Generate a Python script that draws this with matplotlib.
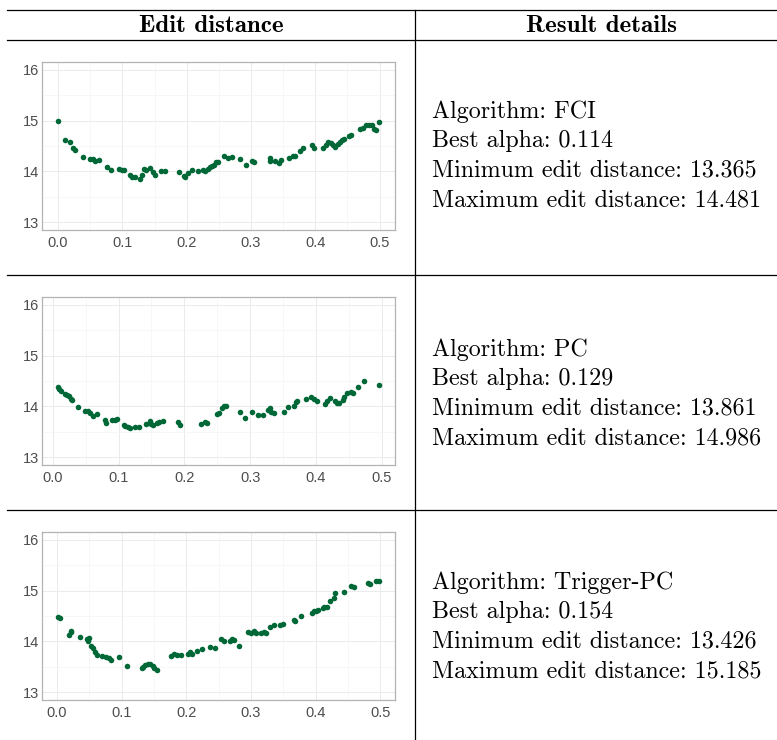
import matplotlib
matplotlib.use('Agg')
import matplotlib.pyplot as plt
from matplotlib.lines import Line2D
from matplotlib.ticker import MultipleLocator

# ---------------------------------------------------------------------------
# DATA  (alpha vs. edit distance)
# ---------------------------------------------------------------------------
fci_alpha = [0.000, 0.011, 0.019, 0.024, 0.026, 0.039, 0.050, 0.054, 0.058, 0.064,
             0.076, 0.082, 0.095, 0.100, 0.103, 0.112, 0.115, 0.119, 0.128, 0.131,
             0.134, 0.137, 0.143, 0.147, 0.151, 0.160, 0.167, 0.188, 0.196, 0.198,
             0.202, 0.209, 0.217, 0.225, 0.229, 0.233, 0.236, 0.240, 0.243, 0.245,
             0.249, 0.258, 0.264, 0.270, 0.283, 0.292, 0.301, 0.305, 0.329, 0.330,
             0.337, 0.344, 0.347, 0.359, 0.365, 0.368, 0.377, 0.381, 0.395, 0.398,
             0.412, 0.416, 0.420, 0.424, 0.428, 0.431, 0.435, 0.438, 0.442, 0.444,
             0.452, 0.456, 0.469, 0.474, 0.479, 0.484, 0.488, 0.492, 0.495, 0.499]
fci_dist = [15.00, 14.61, 14.57, 14.47, 14.43, 14.29, 14.24, 14.24, 14.20, 14.22,
            14.08, 14.02, 14.05, 14.03, 14.03, 13.93, 13.90, 13.90, 13.86, 13.94,
            14.05, 14.02, 14.07, 13.99, 13.94, 14.00, 14.00, 13.98, 13.92, 13.90,
            13.96, 14.02, 14.00, 14.03, 14.00, 14.05, 14.09, 14.10, 14.13, 14.18,
            14.18, 14.30, 14.26, 14.29, 14.25, 14.12, 14.21, 14.19, 14.27, 14.21,
            14.21, 14.17, 14.23, 14.26, 14.30, 14.30, 14.41, 14.47, 14.51, 14.47,
            14.47, 14.52, 14.57, 14.55, 14.52, 14.49, 14.53, 14.57, 14.61, 14.64,
            14.69, 14.72, 14.83, 14.85, 14.91, 14.91, 14.91, 14.83, 14.81, 14.97]

pc_alpha = [0.008, 0.009, 0.012, 0.018, 0.022, 0.024, 0.027, 0.029, 0.039, 0.049,
            0.054, 0.057, 0.061, 0.067, 0.079, 0.081, 0.090, 0.094, 0.097, 0.108,
            0.110, 0.114, 0.118, 0.125, 0.131, 0.142, 0.148, 0.150, 0.153, 0.158,
            0.162, 0.168, 0.190, 0.193, 0.226, 0.231, 0.234, 0.249, 0.253, 0.258,
            0.260, 0.263, 0.284, 0.293, 0.303, 0.312, 0.320, 0.328, 0.330, 0.332,
            0.337, 0.352, 0.358, 0.367, 0.370, 0.372, 0.385, 0.392, 0.397, 0.402,
            0.414, 0.417, 0.421, 0.429, 0.432, 0.436, 0.441, 0.443, 0.447, 0.453,
            0.456, 0.464, 0.474, 0.496]
pc_dist = [14.39, 14.35, 14.31, 14.24, 14.22, 14.20, 14.14, 14.12, 13.98, 13.91,
           13.91, 13.87, 13.82, 13.85, 13.73, 13.68, 13.74, 13.73, 13.75, 13.64,
           13.61, 13.59, 13.58, 13.60, 13.60, 13.65, 13.71, 13.65, 13.63, 13.67,
           13.69, 13.71, 13.70, 13.63, 13.65, 13.70, 13.67, 13.85, 13.87, 13.96,
           14.00, 14.00, 13.90, 13.78, 13.90, 13.83, 13.83, 13.93, 13.97, 13.90,
           13.88, 13.90, 13.98, 14.01, 14.08, 14.10, 14.14, 14.19, 14.14, 14.10,
           14.05, 14.11, 14.16, 14.10, 14.07, 14.07, 14.12, 14.18, 14.26, 14.28,
           14.26, 14.39, 14.50, 14.42]

tpc_alpha = [0.0015, 0.004, 0.018, 0.021, 0.022, 0.035, 0.046, 0.048, 0.049, 0.052,
             0.055, 0.058, 0.062, 0.070, 0.076, 0.080, 0.083, 0.096, 0.108, 0.131,
             0.133, 0.136, 0.140, 0.144, 0.148, 0.150, 0.154, 0.176, 0.181, 0.186,
             0.191, 0.203, 0.205, 0.209, 0.217, 0.224, 0.236, 0.244, 0.254, 0.258,
             0.267, 0.270, 0.273, 0.282, 0.295, 0.300, 0.304, 0.308, 0.315, 0.320,
             0.323, 0.330, 0.335, 0.345, 0.349, 0.366, 0.368, 0.378, 0.395, 0.398,
             0.400, 0.403, 0.411, 0.413, 0.418, 0.422, 0.428, 0.430, 0.444, 0.454,
             0.459, 0.481, 0.484, 0.493, 0.498]
tpc_dist = [14.48, 14.47, 14.13, 14.18, 14.20, 14.09, 14.05, 14.01, 14.06, 13.91,
            13.87, 13.80, 13.73, 13.72, 13.69, 13.67, 13.63, 13.69, 13.52, 13.48,
            13.50, 13.54, 13.55, 13.55, 13.52, 13.48, 13.44, 13.72, 13.76, 13.74,
            13.74, 13.76, 13.80, 13.75, 13.82, 13.86, 13.90, 13.88, 14.05, 14.00,
            14.00, 14.05, 14.03, 13.91, 14.18, 14.16, 14.20, 14.17, 14.16, 14.19,
            14.16, 14.29, 14.32, 14.32, 14.34, 14.43, 14.41, 14.50, 14.56, 14.60,
            14.60, 14.62, 14.65, 14.68, 14.67, 14.79, 14.85, 14.95, 14.98, 15.08,
            15.06, 15.15, 15.13, 15.18, 15.19]

header_labels = ["Edit distance", "Result details"]
algorithms = ["FCI", "PC", "Trigger-PC"]
best_alpha = ["0.114", "0.129", "0.154"]
min_dist = ["13.365", "13.861", "13.426"]
max_dist = ["14.481", "14.986", "15.185"]

# ---------------------------------------------------------------------------
# LAYOUT (pixels)
# ---------------------------------------------------------------------------
W, H = 777, 740
POINT_COL = '#006837'
GRID_MAJOR = '#EBEBEB'
GRID_MINOR = '#F4F4F4'
TICK_COL = '#4D4D4D'

fig = plt.figure(figsize=(W / 100, H / 100), dpi=100)


def fx(x):
    return x / W


def fy(y):
    return 1 - y / H


def hline(y, x0=7, x1=W, lw=0.9):
    fig.add_artist(Line2D([fx(x0), fx(x1)], [fy(y), fy(y)], color='black', lw=lw))


# table rules
hline(10)
hline(40)
hline(275)
hline(510)
fig.add_artist(Line2D([fx(415), fx(415)], [fy(10), fy(H)], color='black', lw=0.9))

# headers
fig.text(fx(211), fy(26), header_labels[0], family='cmb10', fontsize=18,
         ha='center', va='center')
fig.text(fx(601), fy(26), header_labels[1], family='cmb10', fontsize=18,
         ha='center', va='center')

panels = [(fci_alpha, fci_dist, 62, 230, 156),
          (pc_alpha, pc_dist, 297, 465, 394),
          (tpc_alpha, tpc_dist, 532, 700, 627)]

for i, (xs, ys, top, bot, text_mid) in enumerate(panels):
    ax = fig.add_axes([fx(42), fy(bot), fx(395 - 42), (bot - top) / H])
    ax.scatter(xs, ys, s=16, color=POINT_COL, linewidths=0, zorder=3)
    ax.margins(x=0.05)
    ax.set_ylim(12.85, 16.15)
    ax.xaxis.set_major_locator(MultipleLocator(0.1))
    ax.xaxis.set_minor_locator(MultipleLocator(0.05))
    ax.yaxis.set_major_locator(MultipleLocator(1))
    ax.yaxis.set_minor_locator(MultipleLocator(0.5))
    ax.xaxis.set_major_formatter(lambda v, p: f"{v:.1f}")
    ax.grid(which='major', color=GRID_MAJOR, lw=0.7)
    ax.grid(which='minor', color=GRID_MINOR, lw=0.5)
    ax.set_axisbelow(True)
    for s in ax.spines.values():
        s.set_color('#B3B3B3')
        s.set_linewidth(0.9)
    ax.tick_params(which='both', length=0, labelsize=10.5, labelcolor=TICK_COL)
    ax.tick_params(axis='x', pad=4)
    ax.tick_params(axis='y', pad=2)
    for lab in ax.get_xticklabels() + ax.get_yticklabels():
        lab.set_family('Liberation Sans')

    lines = [f"Algorithm: {algorithms[i]}",
             f"Best alpha: {best_alpha[i]}",
             f"Minimum edit distance: {min_dist[i]}",
             f"Maximum edit distance: {max_dist[i]}"]
    for k, line in enumerate(lines):
        y = text_mid + (k - 1.5) * 29.3
        fig.text(fx(432), fy(y), line, family='cmr10', fontsize=17.3,
                 ha='left', va='center')

fig.savefig('out.png', dpi=100)
